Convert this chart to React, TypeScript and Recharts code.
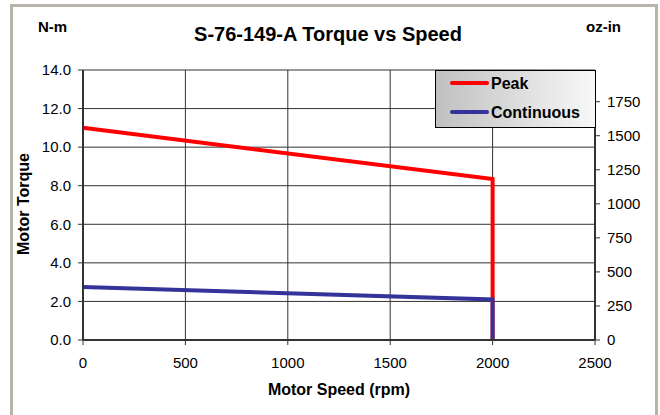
import React from "react";
import {
  LineChart,
  Line,
  XAxis,
  YAxis,
  CartesianGrid,
  Legend,
} from "recharts";

// torque curves (N-m vs rpm)
const seriesNames = ["Peak", "Continuous"];
const peakRpm = [0, 2000, 2000];
const peakTorque = [11.0, 8.35, 0];
const contRpm = [0, 2000, 2000];
const contTorque = [2.75, 2.1, 0];

const rpmTicks = [0, 500, 1000, 1500, 2000, 2500];
const nmTicks = [0, 2, 4, 6, 8, 10, 12, 14];
const ozTicks = [0, 250, 500, 750, 1000, 1250, 1500, 1750];

const OZIN_PER_NM = 141.612;
const NM_MAX = 14;

const peakData = peakRpm.map((rpm, i) => ({ rpm, nm: peakTorque[i] }));
// continuous curve goes on the oz-in axis so the right scale gets drawn
const contData = contRpm.map((rpm, i) => ({ rpm, ozin: contTorque[i] * OZIN_PER_NM }));

const FONT = "'Liberation Sans', Arial, sans-serif";
const tickStyle = { fontSize: 15, fill: "#000", fontFamily: FONT };
const axisLine = { stroke: "#333", strokeWidth: 2 };

function LegendBox({ payload }: any) {
  const items = [...(payload || [])].sort(
    (a: any, b: any) => seriesNames.indexOf(a.value) - seriesNames.indexOf(b.value)
  );
  return (
    <div
      style={{
        width: 161,
        height: 58,
        boxSizing: "border-box",
        border: "1px solid #000",
        background: "linear-gradient(to right, #c0c0c0, #f8f8f8)",
        fontFamily: FONT,
        fontWeight: "bold",
        fontSize: 16,
        color: "#000",
      }}
    >
      {items.map((p: any) => (
        <div
          key={p.value}
          style={{ display: "flex", alignItems: "center", height: 26, marginBottom: 3 }}
        >
          <span
            style={{
              display: "inline-block",
              width: 39,
              height: 4,
              marginLeft: 14,
              marginRight: 2,
              marginTop: -3,
              borderRadius: 2,
              background: p.color,
            }}
          />
          <span>{p.value}</span>
        </div>
      ))}
    </div>
  );
}

export default function App() {
  return (
    <div
      style={{
        position: "absolute",
        left: 0,
        top: 0,
        width: 660,
        height: 415,
        overflow: "hidden",
        background: "#fff",
        fontFamily: FONT,
      }}
    >
      <div
        style={{
          position: "absolute",
          left: 10,
          top: 4,
          width: 648,
          height: 440,
          boxSizing: "border-box",
          border: "3px solid #b8b4aa",
        }}
      />
      <LineChart
        width={660}
        height={415}
        margin={{ top: 70, right: 10, bottom: 45, left: 33 }}
        style={{ position: "absolute", left: 0, top: 0 }}
      >
        <CartesianGrid yAxisId="left" stroke="#333" strokeWidth={1} />
        <XAxis
          dataKey="rpm"
          type="number"
          domain={[0, 2500]}
          ticks={rpmTicks}
          allowDuplicatedCategory={false}
          tick={tickStyle}
          tickSize={5}
          tickMargin={12}
          height={30}
          axisLine={axisLine}
          tickLine={{ stroke: "#333" }}
        />
        <YAxis
          yAxisId="left"
          type="number"
          domain={[0, NM_MAX]}
          ticks={nmTicks}
          tickFormatter={(v: number) => v.toFixed(1)}
          tick={tickStyle}
          tickSize={5}
          tickMargin={7}
          width={50}
          axisLine={axisLine}
          tickLine={{ stroke: "#333" }}
        />
        <YAxis
          yAxisId="right"
          orientation="right"
          type="number"
          domain={[0, NM_MAX * OZIN_PER_NM]}
          allowDataOverflow
          ticks={ozTicks}
          tick={tickStyle}
          tickSize={5}
          tickMargin={7}
          width={55}
          axisLine={axisLine}
          tickLine={{ stroke: "#333" }}
        />
        <Legend
          layout="vertical"
          align="center"
          verticalAlign="middle"
          wrapperStyle={{ left: 435, top: 70, width: 161, height: 58 }}
          content={(props: any) => <LegendBox {...props} />}
        />
        <Line
          yAxisId="left"
          data={peakData}
          dataKey="nm"
          name="Peak"
          stroke="#ff0000"
          strokeWidth={4}
          dot={false}
          isAnimationActive={false}
        />
        <Line
          yAxisId="right"
          data={contData}
          dataKey="ozin"
          name="Continuous"
          stroke="#333399"
          strokeWidth={4}
          dot={false}
          isAnimationActive={false}
        />
      </LineChart>
      <div
        style={{
          position: "absolute",
          left: 328,
          top: 24,
          transform: "translateX(-50%)",
          fontSize: 20,
          lineHeight: "20px",
          fontWeight: "bold",
          whiteSpace: "nowrap",
        }}
      >
        S-76-149-A Torque vs Speed
      </div>
      <div
        style={{
          position: "absolute",
          left: 38,
          top: 19,
          fontSize: 15,
          lineHeight: "15px",
          fontWeight: "bold",
        }}
      >
        N-m
      </div>
      <div
        style={{
          position: "absolute",
          left: 586,
          top: 19,
          fontSize: 15,
          lineHeight: "15px",
          fontWeight: "bold",
        }}
      >
        oz-in
      </div>
      <div
        style={{
          position: "absolute",
          left: 24,
          top: 204,
          transform: "translate(-50%, -50%) rotate(-90deg)",
          fontSize: 16,
          lineHeight: "16px",
          fontWeight: "bold",
          whiteSpace: "nowrap",
        }}
      >
        Motor Torque
      </div>
      <div
        style={{
          position: "absolute",
          left: 339,
          top: 390,
          transform: "translate(-50%, -50%)",
          fontSize: 16,
          lineHeight: "16px",
          fontWeight: "bold",
          whiteSpace: "nowrap",
        }}
      >
        Motor Speed (rpm)
      </div>
    </div>
  );
}
